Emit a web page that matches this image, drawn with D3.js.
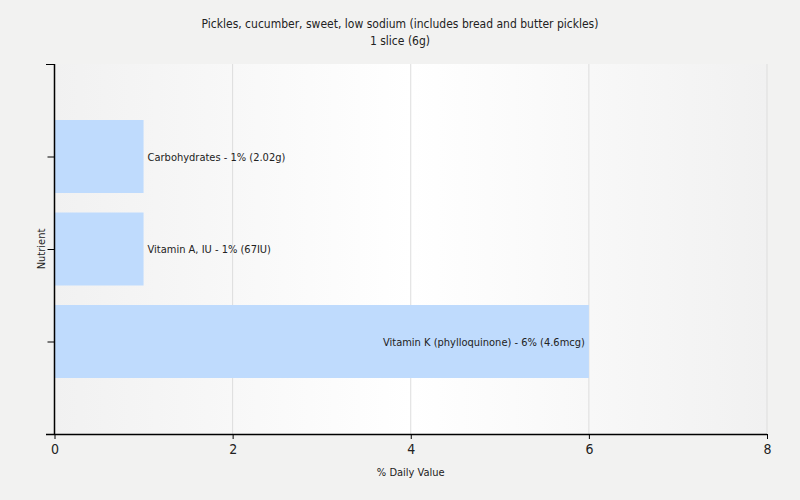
<!DOCTYPE html>
<html><head><meta charset="utf-8">
<script src="https://cdn.jsdelivr.net/npm/d3@7"></script>
<style>body{margin:0;background:#f2f2f1;} text{font-family:"DejaVu Sans Condensed","DejaVu Sans",sans-serif;fill:#222;}</style>
</head><body>
<svg id="c" width="800" height="500"></svg>
<script>
const nutrients = ["Carbohydrates", "Vitamin A, IU", "Vitamin K (phylloquinone)"];
const values = [1, 1, 6];
const labels = ["Carbohydrates - 1% (2.02g)", "Vitamin A, IU - 1% (67IU)", "Vitamin K (phylloquinone) - 6% (4.6mcg)"];
const xTicks = [0, 2, 4, 6, 8];
const title1 = "Pickles, cucumber, sweet, low sodium (includes bread and butter pickles)";
const title2 = "1 slice (6g)";

const svg = d3.select("#c");
const L = 54.5, R = 767, T = 64, B = 434;
const x = d3.scaleLinear().domain([0, 8]).range([L, R]);
const y = d3.scalePoint().domain(nutrients).range([T, B]).padding(1);
const bh = 73;

const defs = svg.append("defs");
const g = defs.append("linearGradient").attr("id","bg").attr("x1","0").attr("x2","1").attr("y1","0").attr("y2","0");
g.append("stop").attr("offset","0").attr("stop-color","#f1f1f1");
g.append("stop").attr("offset","0.5").attr("stop-color","#ffffff");
g.append("stop").attr("offset","1").attr("stop-color","#f1f1f1");
svg.append("rect").attr("x",L).attr("y",T).attr("width",R-L).attr("height",B-T).attr("fill","url(#bg)");

svg.selectAll("line.grid").data(xTicks.filter(d=>d>0)).enter().append("line")
  .attr("x1",d=>x(d)).attr("x2",d=>x(d)).attr("y1",T).attr("y2",B)
  .attr("stroke","#dddddd").attr("stroke-width",1);

svg.selectAll("rect.bar").data(values).enter().append("rect")
  .attr("x",x(0)).attr("y",(d,i)=>y(nutrients[i])-bh/2)
  .attr("width",d=>x(d)-x(0)).attr("height",bh).attr("fill","#bfdbfd");

svg.selectAll("text.lbl").data(values).enter().append("text")
  .attr("x",(d,i)=> d>3 ? x(d)-4 : x(d)+4)
  .attr("y",(d,i)=>y(nutrients[i])+4)
  .attr("text-anchor",d=> d>3 ? "end" : "start")
  .attr("font-size",11).text((d,i)=>labels[i]);

// axes
const xa = svg.append("g").attr("transform",`translate(0,${B})`)
  .call(d3.axisBottom(x).tickValues(xTicks).tickSize(5).tickFormat(d3.format("d")));
xa.select(".domain").remove();
xa.selectAll("line").attr("stroke","#000");
xa.selectAll("text").attr("font-size",14).attr("dy","0.85em").style("fill","#222");
svg.append("line").attr("x1",46).attr("x2",R).attr("y1",B+0.5).attr("y2",B+0.5).attr("stroke","#000").attr("stroke-width",1.5);

const ya = svg.append("g").attr("transform",`translate(${L},0)`)
  .call(d3.axisLeft(y).tickSize(7).tickFormat(""));
ya.select(".domain").remove();
ya.selectAll("line").attr("stroke","#000");
svg.append("line").attr("x1",L).attr("x2",L).attr("y1",T).attr("y2",B).attr("stroke","#000").attr("stroke-width",1.5);
svg.append("line").attr("x1",46).attr("x2",L).attr("y1",T+0.5).attr("y2",T+0.5).attr("stroke","#000");

svg.append("text").attr("x",(L+R)/2).attr("y",476).attr("text-anchor","middle").attr("font-size",11).text("% Daily Value");
svg.append("text").attr("transform",`translate(45,249) rotate(-90)`).attr("text-anchor","middle").attr("font-size",11).text("Nutrient");
svg.append("text").attr("x",400).attr("y",28).attr("text-anchor","middle").attr("font-size",12).text(title1);
svg.append("text").attr("x",400).attr("y",45).attr("text-anchor","middle").attr("font-size",12).text(title2);
</script>
</body></html>
